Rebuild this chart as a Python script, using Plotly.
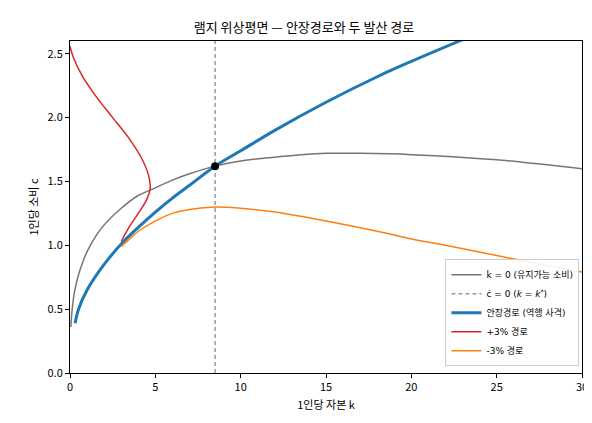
import plotly.graph_objects as go

k_null_k = [0.05,0.1,0.2,0.3,0.5,0.75,1,1.5,2,3,4,5,6,7,8.5,10,12,15,17,20,25,30]
k_null_c = [0.36,0.46,0.58,0.66,0.77,0.87,0.95,1.07,1.16,1.29,1.39,1.45,1.51,1.56,1.62,1.66,1.69,1.72,1.72,1.71,1.67,1.60]
kstar = 8.5
cstar = 1.62
sp_k = [0.3,0.5,1,2,3,4,5,6,7,8.5,10,12,15,18,20,23]
sp_c = [0.39,0.50,0.65,0.85,1.01,1.14,1.26,1.37,1.47,1.62,1.74,1.90,2.12,2.32,2.44,2.61]
up_k = [3,3.5,4,4.5,4.7,4.6,4.2,3.5,2.5,1.5,0.7,0.2,0]
up_c = [1.03,1.15,1.25,1.36,1.45,1.55,1.68,1.83,2.0,2.17,2.33,2.47,2.56]
dn_k = [3,3.5,4,5,6,7,8.5,10,12,15,18,20,22,25,28,30]
dn_c = [0.99,1.05,1.11,1.19,1.25,1.28,1.30,1.29,1.26,1.19,1.11,1.05,1.0,0.92,0.84,0.79]

fig = go.Figure()
fig.add_trace(go.Scatter(x=k_null_k, y=k_null_c, mode="lines", line=dict(color="#757575", width=1.5, shape="spline", smoothing=0.6), name="k\u0307 = 0 (유지가능 소비)"))
fig.add_trace(go.Scatter(x=[kstar,kstar], y=[0,2.6], mode="lines", line=dict(color="#666666", width=1, dash="4px,3px"), name="c\u0307 = 0 (<i>k</i> = <i>k</i><sup>*</sup>)"))
fig.add_trace(go.Scatter(x=sp_k, y=sp_c, mode="lines", line=dict(color="#1f77b4", width=3, shape="spline"), name="안장경로 (역행 사격)"))
fig.add_trace(go.Scatter(x=up_k, y=up_c, mode="lines", line=dict(color="#d62728", width=1.5, shape="spline"), name="+3% 경로"))
fig.add_trace(go.Scatter(x=dn_k, y=dn_c, mode="lines", line=dict(color="#ff7f0e", width=1.5, shape="spline"), name="-3% 경로"))
fig.add_trace(go.Scatter(x=[kstar], y=[cstar], mode="markers", marker=dict(color="black", size=8), showlegend=False))

ax = dict(showgrid=False, zeroline=False, showline=True, linecolor="black", mirror=True, ticks="outside", ticklen=4, tickcolor="black")
fig.update_layout(
    width=592, height=423, plot_bgcolor="white", paper_bgcolor="white",
    font=dict(family="Noto Sans CJK KR", size=11, color="black"),
    title=dict(text="램지 위상평면 — 안장경로와 두 발산 경로", x=0.5, xanchor="center", y=0.965, font=dict(size=13)),
    margin=dict(l=62, r=18, t=33, b=58),
    xaxis=dict(ax, range=[0,30], dtick=5, title=dict(text="1인당 자본 k", font=dict(size=11), standoff=8)),
    yaxis=dict(ax, range=[0,2.6], dtick=0.5, tickformat=".1f", title=dict(text="1인당 소비 c", font=dict(size=11), standoff=6)),
    legend=dict(x=0.995, y=0.02, xanchor="right", yanchor="bottom", bordercolor="#cccccc", borderwidth=1, bgcolor="rgba(255,255,255,0.9)", font=dict(size=9, family="DejaVu Sans, Noto Sans CJK KR")),
)
fig.write_html("out.html")
